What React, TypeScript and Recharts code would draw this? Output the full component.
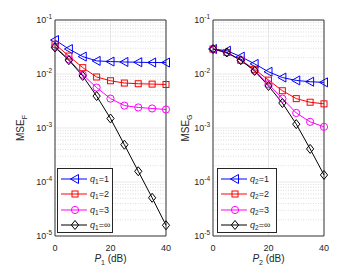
import React from 'react';
import { LineChart, Line, XAxis, YAxis, CartesianGrid, ReferenceLine, Legend } from 'recharts';

const power = [0, 5, 10, 15, 20, 25, 30, 35, 40];

const mseF_q1 = [0.0426, 0.029, 0.021, 0.0175, 0.017, 0.0167, 0.0165, 0.0163, 0.0163];
const mseF_q2 = [0.0355, 0.0215, 0.0131, 0.0088, 0.0075, 0.0068, 0.0066, 0.0065, 0.0064];
const mseF_q3 = [0.032, 0.0187, 0.0097, 0.0056, 0.0035, 0.0026, 0.0024, 0.0023, 0.0022];
const mseF_qinf = [0.031, 0.018, 0.0092, 0.0039, 0.0015, 0.00049, 0.000158, 0.000051, 0.0000158];

const mseG_q1 = [0.029, 0.027, 0.021, 0.0154, 0.011, 0.0086, 0.0076, 0.0072, 0.007];
const mseG_q2 = [0.029, 0.025, 0.018, 0.0122, 0.0077, 0.0049, 0.0035, 0.003, 0.0028];
const mseG_q3 = [0.029, 0.025, 0.018, 0.0115, 0.0065, 0.0035, 0.0019, 0.0013, 0.00105];
const mseG_qinf = [0.029, 0.025, 0.018, 0.0114, 0.006, 0.0029, 0.00118, 0.00041, 0.000135];

const yTicks = [1e-5, 1e-4, 1e-3, 1e-2, 1e-1];
const yTickExp = ['-5', '-4', '-3', '-2', '-1'];
const xTicks = [0, 20, 40];
const qLabels = ['1', '2', '3', '∞'];

// dotted minor grid at 2..9 x each decade
const minorY: number[] = [];
for (let e = -5; e < -1; e++) {
  for (let m = 2; m <= 9; m++) minorY.push(m * Math.pow(10, e));
}

const INK = '#262626';
const FRAME = '#3a3a3a';
const FONT = '"Liberation Sans", Arial, Helvetica, sans-serif';

const seriesStyle = [
  { key: 'q1', color: '#0000ff', marker: 'tri' },
  { key: 'q2', color: '#ff0000', marker: 'square' },
  { key: 'q3', color: '#ff00ff', marker: 'circle' },
  { key: 'qinf', color: '#000000', marker: 'diamond' },
];

function marker(kind: string, color: string, cx: number, cy: number, key?: any) {
  const common = { key, fill: 'none', stroke: color, strokeWidth: 1 };
  if (kind === 'tri')
    return <polygon {...common} points={`${cx - 4.5},${cy} ${cx + 3.5},${cy - 4.5} ${cx + 3.5},${cy + 4.5}`} />;
  if (kind === 'square') return <rect {...common} x={cx - 3} y={cy - 3} width={6} height={6} />;
  if (kind === 'circle') return <circle {...common} cx={cx} cy={cy} r={3.6} />;
  return <polygon {...common} points={`${cx},${cy - 4.5} ${cx + 3.6},${cy} ${cx},${cy + 4.5} ${cx - 3.6},${cy}`} />;
}

function YTick({ x, y, payload }: any) {
  const i = yTicks.indexOf(payload.value);
  return (
    <text x={x} y={y + 3} textAnchor="end" fontSize={9} fill={INK} fontFamily={FONT}>
      10<tspan dy={-4} fontSize={6.5}>{yTickExp[i]}</tspan>
    </text>
  );
}

function XTick({ x, y, payload }: any) {
  return (
    <text x={x} y={y + 13} textAnchor="middle" fontSize={9} fill={INK} fontFamily={FONT}>
      {payload.value}
    </text>
  );
}

function YTitle({ viewBox, sub, dx }: any) {
  const cx = viewBox.x + dx;
  const cy = viewBox.y + viewBox.height / 2;
  return (
    <text x={cx} y={cy} transform={`rotate(-90, ${cx}, ${cy})`} textAnchor="middle" fontSize={10} fill={INK} fontFamily={FONT}>
      MSE<tspan dy={3} fontSize={7}>{sub}</tspan>
    </text>
  );
}

function XTitle({ viewBox, sub }: any) {
  const cx = viewBox.x + viewBox.width / 2;
  const cy = viewBox.y + 26;
  return (
    <text x={cx} y={cy} textAnchor="middle" fontSize={10} fill={INK} fontFamily={FONT}>
      <tspan fontStyle="italic">P</tspan>
      <tspan dy={3} fontSize={7}>{sub}</tspan>
      <tspan dy={-3}> (dB)</tspan>
    </text>
  );
}

function LegendBox({ sub, width }: any) {
  return (
    <div
      style={{
        width,
        height: 65,
        border: `1px solid ${INK}`,
        background: '#fff',
        boxSizing: 'border-box',
        fontFamily: FONT,
        fontSize: 9,
        color: INK,
        paddingTop: 2,
      }}
    >
      {seriesStyle.map((s, i) => (
        <div key={s.key} style={{ display: 'flex', alignItems: 'center', height: 15.5 }}>
          <svg width={29} height={12} style={{ marginLeft: 2 }}>
            <line x1={1} y1={6} x2={27} y2={6} stroke={s.color} strokeWidth={1} />
            {marker(s.marker, s.color, 15, 6)}
          </svg>
          <span style={{ marginLeft: 1, whiteSpace: 'nowrap' }}>
            <i>q</i>
            <span style={{ fontSize: 6.5, position: 'relative', top: 2 }}>{sub}</span>={qLabels[i]}
          </span>
        </div>
      ))}
    </div>
  );
}

function Panel({ series, sub, width, yAxisWidth, rightMargin, titleDx, legendLeft, legendWidth }: any) {
  const data = power.map((p, i) => ({
    p,
    q1: series[0][i],
    q2: series[1][i],
    q3: series[2][i],
    qinf: series[3][i],
  }));
  return (
    <LineChart width={width} height={269} data={data} margin={{ top: 20, right: rightMargin, bottom: 0, left: 0 }}>
      <CartesianGrid stroke="#e3e3e3" strokeWidth={0.8} horizontalValues={yTicks} verticalValues={xTicks} />
      {minorY.map((v) => (
        <ReferenceLine key={v} y={v} stroke="#cfcfcf" strokeWidth={0.7} strokeDasharray="1 1.5" />
      ))}
      <XAxis
        dataKey="p"
        type="number"
        domain={[0, 40]}
        ticks={xTicks}
        height={33}
        tickSize={0}
        tickLine={false}
        axisLine={{ stroke: FRAME }}
        tick={<XTick />}
        label={<XTitle sub={sub} />}
      />
      <YAxis
        type="number"
        scale="log"
        domain={[1e-5, 1e-1]}
        ticks={yTicks}
        allowDataOverflow
        width={yAxisWidth}
        tickSize={0}
        tickMargin={3}
        tickLine={false}
        axisLine={{ stroke: FRAME }}
        tick={<YTick />}
        label={<YTitle sub={sub === '1' ? 'F' : 'G'} dx={titleDx} />}
      />
      <ReferenceLine y={1e-1} stroke={FRAME} strokeWidth={1} />
      <ReferenceLine x={40} stroke={FRAME} strokeWidth={1} />
      {seriesStyle.map((s) => (
        <Line
          key={s.key}
          dataKey={s.key}
          stroke={s.color}
          strokeWidth={1}
          isAnimationActive={false}
          dot={(props: any) => marker(s.marker, s.color, props.cx, props.cy, props.index)}
          activeDot={false}
        />
      ))}
      <Legend
        layout="vertical"
        align="center"
        verticalAlign="middle"
        wrapperStyle={{ left: legendLeft, top: 168, width: legendWidth }}
        content={() => <LegendBox sub={sub} width={legendWidth} />}
      />
    </LineChart>
  );
}

export default function App() {
  return (
    <div style={{ position: 'absolute', left: 0, top: 0, width: 359, height: 269, background: '#fff' }}>
      <div style={{ position: 'absolute', left: 0, top: 0 }}>
        <Panel
          series={[mseF_q1, mseF_q2, mseF_q3, mseF_qinf]}
          sub="1"
          width={180}
          yAxisWidth={55}
          rightMargin={14}
          titleDx={24}
          legendLeft={57}
          legendWidth={56}
        />
      </div>
      <div style={{ position: 'absolute', left: 180, top: 0 }}>
        <Panel
          series={[mseG_q1, mseG_q2, mseG_q3, mseG_qinf]}
          sub="2"
          width={179}
          yAxisWidth={33}
          rightMargin={35}
          titleDx={9}
          legendLeft={37}
          legendWidth={60}
        />
      </div>
    </div>
  );
}
